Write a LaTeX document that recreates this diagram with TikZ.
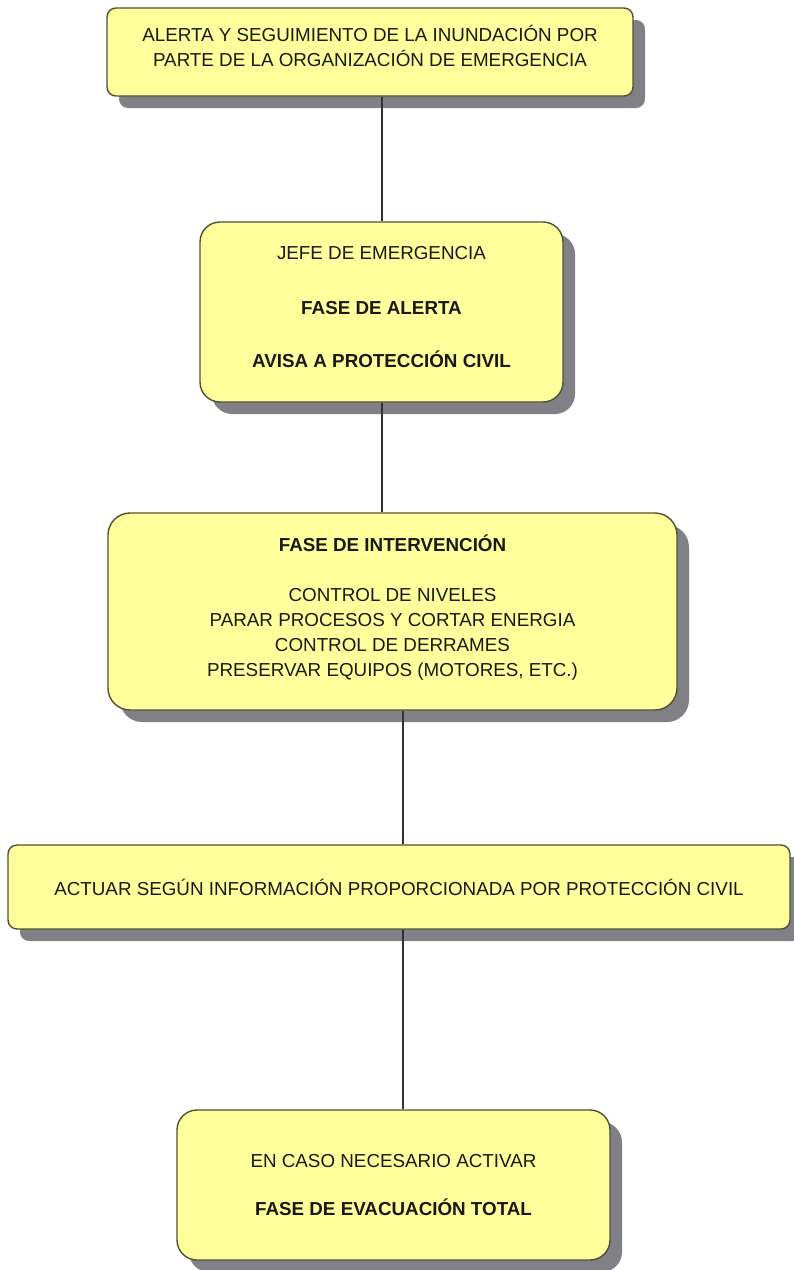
\documentclass[tikz,border=0pt]{standalone}
\usepackage{fontspec}
\setmainfont{Liberation Sans}
\usetikzlibrary{shadows}
\definecolor{boxfill}{RGB}{255,255,156}
\definecolor{boxline}{RGB}{80,80,50}
\definecolor{shadowgray}{RGB}{128,128,134}
\definecolor{linkgray}{RGB}{50,50,50}
\definecolor{textdark}{RGB}{25,25,15}
\tikzset{
  stagebox/.style={draw=boxline, line width=1.4pt, fill=boxfill,
    rounded corners=#1, inner sep=0pt,
    general shadow={fill=shadowgray, shadow xshift=12pt, shadow yshift=-12pt}},
  stagebox/.default=12pt,
  stagetext/.style={align=center, inner sep=0pt, text=textdark,
    font=\fontsize{18.8}{25}\selectfont},
  link/.style={draw=linkgray, line width=2pt}
}
\begin{document}
\begin{tikzpicture}[x=1pt,y=-1pt]
\useasboundingbox (0,0) rectangle (794,1270);

% stage boxes
\node[stagebox=9pt, minimum width=526pt, minimum height=88pt] (b1) at (370,52) {};
\node[stagebox=20pt, minimum width=363pt, minimum height=180pt] (b2) at (381.5,312) {};
\node[stagebox=22pt, minimum width=569pt, minimum height=197pt] (b3) at (392.5,611.5) {};
\node[stagebox=9pt, minimum width=782pt, minimum height=84pt] (b4) at (399,887) {};
\node[stagebox=20pt, minimum width=433pt, minimum height=150pt] (b5) at (393.5,1185) {};

% texts of the stages
\node[stagetext] (t1) at ([yshift=6pt]b1.center)
  {ALERTA Y SEGUIMIENTO DE LA INUNDACIÓN POR\\PARTE DE LA ORGANIZACIÓN DE EMERGENCIA};
\node[stagetext] (t2) at ([yshift=5pt]b2.center)
  {JEFE DE EMERGENCIA\\[30pt]\textbf{FASE DE ALERTA}\\[28pt]\textbf{AVISA A PROTECCIÓN CIVIL}};
\node[stagetext] (t3) at ([yshift=4pt]b3.center)
  {\textbf{FASE DE INTERVENCIÓN}\\[25pt]CONTROL DE NIVELES\\PARAR PROCESOS Y CORTAR ENERGIA\\CONTROL DE DERRAMES\\PRESERVAR EQUIPOS (MOTORES, ETC.)};
\node[stagetext] (t4) at (b4.center)
  {ACTUAR SEGÚN INFORMACIÓN PROPORCIONADA POR PROTECCIÓN CIVIL};
\node[stagetext] (t5) at (b5.center)
  {EN CASO NECESARIO ACTIVAR\\[23pt]\textbf{FASE DE EVACUACIÓN TOTAL}};

% vertical connectors between the stages
\draw[link] (b1.south -| b2.north) -- (b2.north);
\draw[link] (b2.south) -- (b2.south |- b3.north);
\draw[link] ([xshift=10.5pt]b3.south) -- ([xshift=10.5pt]b3.south |- b4.north);
\draw[link] ([xshift=10.5pt]b3.south |- b4.south) -- ([xshift=10.5pt]b3.south |- b5.north);
\end{tikzpicture}
\end{document}
